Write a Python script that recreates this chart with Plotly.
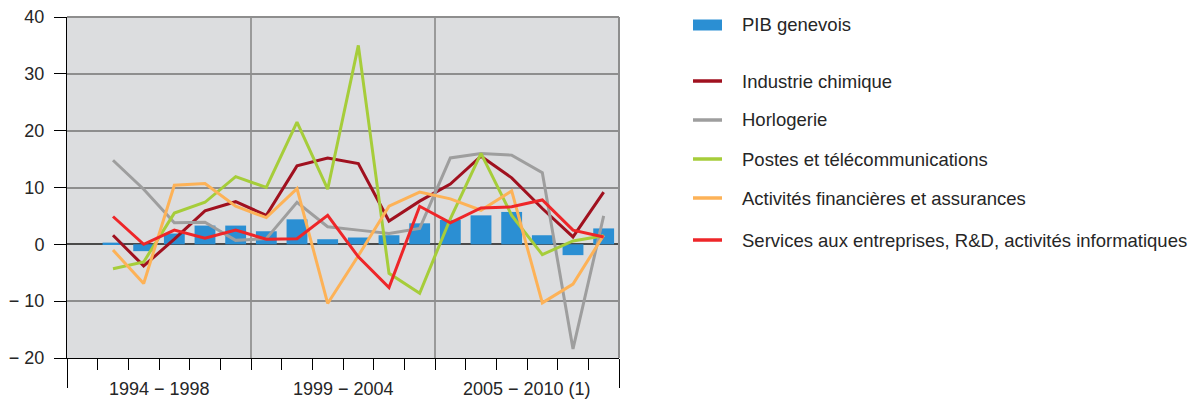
import plotly.graph_objects as go

# ---------------- data ----------------
years = list(range(1994, 2011))
pib_genevois = [0.3, -1.2, 1.9, 3.3, 3.3, 2.3, 4.4, 0.9, 1.2, 1.6, 3.7, 4.3, 5.1, 5.7, 1.6, -1.9, 2.8]
industrie_chimique = [1.6, -3.8, 0.9, 5.9, 7.5, 5.1, 13.8, 15.2, 14.2, 4.1, 7.6, 10.6, 15.5, 11.7, 6.3, 1.3, 9.2]
horlogerie = [14.8, 9.7, 3.8, 3.9, 0.7, 1.0, 7.4, 3.1, 2.5, 1.9, 2.8, 15.2, 16.0, 15.7, 12.6, -18.4, 5.0]
postes_telecom = [-4.3, -3.1, 5.5, 7.4, 11.9, 10.0, 21.5, 9.7, 35.0, -5.1, -8.6, 4.5, 16.0, 5.1, -1.8, 0.6, 1.5]
activites_financieres = [-1.0, -6.9, 10.4, 10.7, 6.7, 4.7, 9.8, -10.4, -2.0, 6.7, 9.2, 8.0, 6.0, 9.4, -10.3, -7.0, 1.6]
services_entreprises = [4.9, 0.0, 2.5, 1.1, 2.5, 0.9, 1.0, 5.1, -2.2, -7.6, 6.7, 3.8, 6.4, 6.6, 7.8, 2.5, 1.3]

group_labels = ["1994 − 1998", "1999 − 2004", "2005 − 2010 (1)"]
group_spans = [(1993, 1998), (1999, 2004), (2005, 2010)]  # slots incl. empty first slot
y_tickvals = [-20, -10, 0, 10, 20, 30, 40]
y_ticktext = ["− 20", "− 10", "0", "10", "20", "30", "40"]

bar_name = "PIB genevois"
line_names = ["Industrie chimique", "Horlogerie", "Postes et télécommunications",
              "Activités financières et assurances",
              "Services aux entreprises, R&D, activités informatiques"]
line_values = [industrie_chimique, horlogerie, postes_telecom, activites_financieres, services_entreprises]
line_colors = ["#a0111f", "#9e9e9e", "#a6cd3a", "#fdb257", "#ee2629"]
bar_color = "#2b8fd3"

# ---------------- layout geometry ----------------
W, H = 1189, 401
ML, MR, MT, MB = 67, 570, 17, 43
PW = W - ML - MR
PH = H - MT - MB
FONT = "Liberation Sans, Arial, sans-serif"
TXT = "#262626"


def px_x(px):
    return (px - ML) / PW


def px_y(py):
    return (H - MB - py) / PH


fig = go.Figure()
fig.add_trace(go.Bar(x=years, y=pib_genevois, name=bar_name, marker_color=bar_color,
                     marker_line_width=0, width=0.68))
for name, vals, col in zip(line_names, line_values, line_colors):
    fig.add_trace(go.Scatter(x=years, y=vals, name=name, mode="lines",
                             line=dict(color=col, width=3)))

x_lo = group_spans[0][0] - 0.5
x_hi = group_spans[-1][1] + 0.5
major_x = [s[0] - 0.5 for s in group_spans] + [x_hi]
minor_x = [y + 0.5 for y in range(group_spans[0][0], group_spans[-1][1])]

fig.update_xaxes(range=[x_lo, x_hi], tickmode="array", tickvals=major_x,
                 ticktext=["" for _ in major_x], ticks="outside", ticklen=29,
                 tickcolor="#000000", tickwidth=1, automargin=False,
                 showgrid=True, gridcolor="#9a9a9a", gridwidth=1.5,
                 showline=True, linecolor="#000000", linewidth=1, zeroline=False,
                 minor=dict(tickmode="array", tickvals=minor_x, ticks="outside",
                            ticklen=11, tickcolor="#000000", tickwidth=1, showgrid=False))
fig.update_yaxes(range=[-20, 40], tickmode="array", tickvals=y_tickvals, ticktext=y_ticktext,
                 ticks="outside", ticklen=12, tickcolor="#000000", tickwidth=1,
                 ticklabelstandoff=6, automargin=False,
                 showgrid=True, gridcolor="#8e8e8e", gridwidth=1.5,
                 showline=True, linecolor="#000000", linewidth=1,
                 zeroline=True, zerolinecolor="#4a4a4a", zerolinewidth=2,
                 tickfont=dict(size=18, color=TXT, family=FONT))

annotations = []
shapes = []
# top and right borders
shapes.append(dict(type="line", xref="paper", yref="paper", x0=0, x1=1, y0=1, y1=1,
                   line=dict(color="#8e8e8e", width=2)))
shapes.append(dict(type="line", xref="paper", yref="paper", x0=1, x1=1, y0=0, y1=1,
                   line=dict(color="#8e8e8e", width=2)))

for lab, (a, b) in zip(group_labels, group_spans):
    annotations.append(dict(x=(a + b) / 2, xref="x", y=px_y(389), yref="paper",
                            text=lab, showarrow=False, xanchor="center", yanchor="middle",
                            font=dict(size=18, color=TXT, family=FONT)))

# manual legend
LEG_FS = 18.5
sym_x0, sym_x1, txt_x = 693, 722, 740
legend_y = [25, 81, 120, 159, 198, 240]
shapes.append(dict(type="rect", xref="paper", yref="paper",
                   x0=px_x(sym_x0), x1=px_x(sym_x1), y0=px_y(30.5), y1=px_y(19.5),
                   fillcolor=bar_color, line=dict(width=0)))
annotations.append(dict(x=px_x(txt_x), y=px_y(legend_y[0]), xref="paper", yref="paper",
                        text=bar_name, showarrow=False, xanchor="left", yanchor="middle",
                        font=dict(size=LEG_FS, color=TXT, family=FONT)))
for name, col, ly in zip(line_names, line_colors, legend_y[1:]):
    shapes.append(dict(type="line", xref="paper", yref="paper",
                       x0=px_x(sym_x0), x1=px_x(sym_x1), y0=px_y(ly), y1=px_y(ly),
                       line=dict(color=col, width=3.5)))
    annotations.append(dict(x=px_x(txt_x), y=px_y(ly), xref="paper", yref="paper",
                            text=name, showarrow=False, xanchor="left", yanchor="middle",
                            font=dict(size=LEG_FS, color=TXT, family=FONT)))

fig.update_layout(width=W, height=H, margin=dict(l=ML, r=MR, t=MT, b=MB, pad=0),
                  paper_bgcolor="#ffffff", plot_bgcolor="#dcdddf",
                  showlegend=False, bargap=0.3,
                  font=dict(family=FONT, size=18, color=TXT),
                  annotations=annotations, shapes=shapes)

fig.write_html("out.html", config={"displayModeBar": False},
               post_script="document.body.style.margin='0';document.body.style.overflow='hidden';")
